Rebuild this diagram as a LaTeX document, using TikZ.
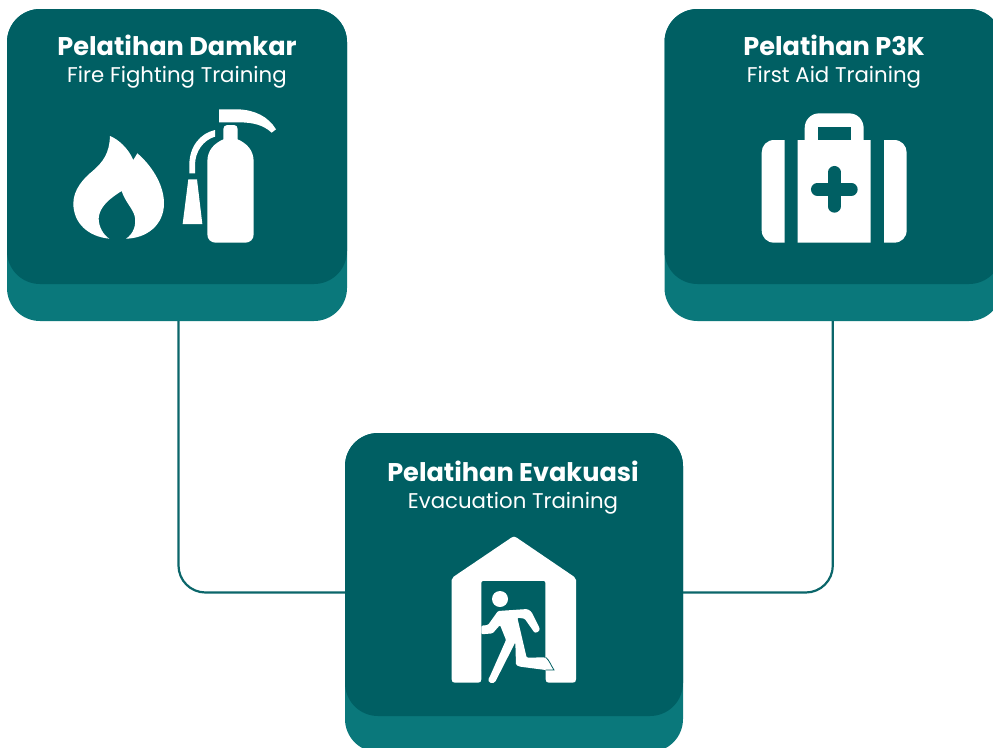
\documentclass[tikz,border=0pt]{standalone}
\usepackage{fontspec}
\setmainfont{Poppins}
\definecolor{cardtop}{HTML}{005F63}
\definecolor{cardbase}{HTML}{0A787B}
\definecolor{linkc}{HTML}{0B666A}
\tikzset{
  cardback/.style={fill=cardbase,draw=none,rounded corners=33pt,inner sep=0pt,outer sep=0pt},
  cardfront/.style={fill=cardtop,draw=none,rounded corners=33pt,inner sep=0pt,outer sep=0pt},
  titletext/.style={text=white,anchor=base,font=\fontsize{25.6pt}{28pt}\selectfont\bfseries,inner sep=0pt},
  subtext/.style={text=white,anchor=base,font=\fontsize{21.3pt}{24pt}\selectfont,inner sep=0pt},
  linkline/.style={draw=linkc,line width=2.2pt,rounded corners=27pt},
  zoomed/.style={x=0.33333pt,y=-0.33333pt},
}
\begin{document}
\begin{tikzpicture}[x=1pt,y=-1pt]
\useasboundingbox (0,0) rectangle (993,747);
\begin{scope}
\clip (0,0) rectangle (993,747);
% cards
\node[cardback,minimum width=340pt,minimum height=312pt] (dback) at (177,165) {};
\node[cardfront,minimum width=340pt,minimum height=275pt] (dfront) at (177,146.5) {};
\node[cardback,minimum width=337.5pt,minimum height=312pt] (pback) at (833.25,165) {};
\node[cardfront,minimum width=337.5pt,minimum height=275pt] (pfront) at (833.25,146.5) {};
\node[cardback,minimum width=338pt,minimum height=319pt] (eback) at (514,592.5) {};
\node[cardfront,minimum width=338pt,minimum height=283pt] (efront) at (514,574.5) {};
% connectors
\coordinate (dout) at (178.5,321);
\coordinate (pout) at (832.8,321);
\draw[linkline] (dout) |- (eback.west);
\draw[linkline] (pout) |- (eback.east);
\end{scope}
% text
\node[titletext] (t1) at (177,55) {Pelatihan Damkar};
\node[subtext] (s1) at (177,82) {Fire Fighting Training};
\node[titletext] (t2) at (834,55) {Pelatihan P3K};
\node[subtext] (s2) at (834,82) {First Aid Training};
\node[titletext] (t3) at (513,481) {Pelatihan Evakuasi};
\node[subtext] (s3) at (513,508) {Evacuation Training};
% flame + extinguisher
\begin{scope}[shift={(50,90)},zoomed]
\fill[white] (180,138) .. controls (205,148) and (235,175) .. (250,210)
  -- (262,190) .. controls (300,222) and (342,280) .. (342,340)
  .. controls (342,405) and (290,445) .. (228,446)
  .. controls (250,432) and (260,405) .. (254,378)
  .. controls (248,355) and (225,335) .. (215,303)
  .. controls (180,325) and (148,350) .. (146,385)
  .. controls (146,410) and (160,435) .. (178,446)
  .. controls (115,440) and (70,400) .. (70,340)
  .. controls (70,300) and (100,265) .. (128,243)
  .. controls (160,215) and (178,190) .. (180,138) -- cycle;
\fill[white] (532,105) -- (552,105) .. controls (559,105) and (563,110) .. (563,117)
  -- (563,148) .. controls (590,160) and (611,180) .. (611,215)
  -- (611,433) .. controls (611,448) and (600,458) .. (586,458)
  -- (497,458) .. controls (483,458) and (472,448) .. (472,433)
  -- (472,215) .. controls (472,180) and (493,160) .. (520,148)
  -- (520,117) .. controls (520,110) and (525,105) .. (532,105) -- cycle;
\fill[white] (495,120) .. controls (450,130) and (418,170) .. (418,225) -- (418,250) -- (435,250) -- (435,225)
  .. controls (435,185) and (460,150) .. (495,140) -- cycle;
\fill[white] (415,268) -- (441,268) -- (457,402) -- (398,402) -- cycle;
\fill[white] (507,58) -- (565,58) .. controls (615,60) and (655,80) .. (678,118) -- (665,128)
  .. controls (640,105) and (610,97) .. (565,97) -- (507,97) -- cycle;
\end{scope}
% first-aid case
\begin{scope}[shift={(740,100)},zoomed]
\fill[white] (134,120) -- (103,120) .. controls (80,120) and (65,137) .. (65,158)
  -- (65,390) .. controls (65,412) and (80,428) .. (103,428) -- (134,428) -- cycle;
\fill[white] (432,120) -- (462,120) .. controls (485,120) and (500,137) .. (500,158)
  -- (500,390) .. controls (500,412) and (485,428) .. (462,428) -- (432,428) -- cycle;
\fill[white] (173,120) -- (194,120) -- (194,85) .. controls (194,60) and (212,40) .. (238,40)
  -- (327,40) .. controls (353,40) and (371,60) .. (371,85) -- (371,120) -- (392,120)
  -- (392,428) -- (173,428) -- cycle;
\fill[cardtop] (233,80) rectangle (332,120);
\draw[cardtop,line width=12.7pt,line cap=round] (283,217) -- (283,319);
\draw[cardtop,line width=12.7pt,line cap=round] (232,268) -- (334,268);
\end{scope}
% exit house
\begin{scope}[shift={(430,525)},zoomed]
\fill[white] (244,38) .. controls (250,34) and (254,34) .. (260,38) -- (432,155)
  .. controls (437,158) and (438,160) .. (438,165) -- (438,463)
  .. controls (438,470) and (435,473) .. (428,473) -- (357,473)
  .. controls (350,473) and (347,470) .. (347,463) -- (347,435) -- (154,435) -- (154,463)
  .. controls (154,470) and (151,473) .. (144,473) -- (75,473)
  .. controls (68,473) and (65,470) .. (65,463) -- (65,165)
  .. controls (65,160) and (66,158) .. (71,155) -- cycle;
\fill[cardtop,rounded corners=2pt] (154,440) -- (154,168) -- (346,168) -- (346,440) -- cycle;
\fill[white] (210,222) circle[radius=24];
\fill[white,rounded corners=1.2pt] (154,302) -- (174,300) -- (204,258) -- (292,252) -- (304,260) -- (328,308)
  .. controls (330,320) and (316,326) .. (310,318) -- (284,281) -- (262,278) -- (290,398) -- (345,397)
  -- (372,435) -- (347,435) -- (270,425) -- (258,420) -- (256,352) -- (198,466)
  .. controls (190,480) and (170,472) .. (178,458) -- (228,345) -- (210,300) -- (188,325) -- (154,328) -- cycle;
\draw[cardtop,line width=0.8pt] (347,397) .. controls (358,405) and (362,420) .. (372,435) -- (347,435);
\end{scope}
\end{tikzpicture}
\end{document}
